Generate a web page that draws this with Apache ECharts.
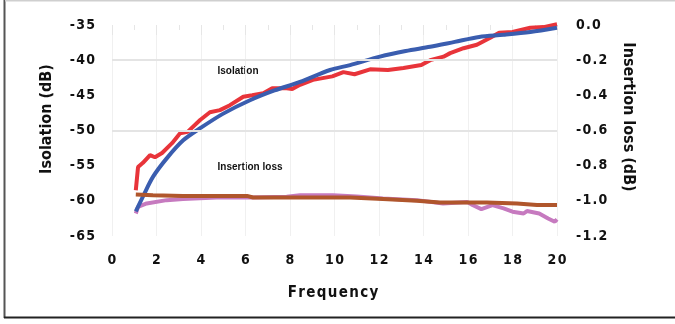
<!DOCTYPE html>
<html>
<head>
<meta charset="utf-8">
<script src="https://cdn.jsdelivr.net/npm/echarts@6/dist/echarts.min.js"></script>
<style>
html,body{margin:0;padding:0;background:#fff;}
#chart{width:675px;height:324px;}
</style>
</head>
<body>
<div id="chart"></div>
<script>
// Isolation (left axis, dB)
const freqRed = [1.07,1.17,1.39,1.71,1.93,2.25,2.70,3.06,3.4,3.96,4.4,4.85,5.3,5.9,6.3,6.8,7.2,7.85,8.1,8.45,9.03,9.9,10.4,10.9,11.6,12.4,13.1,13.9,14.3,14.9,15.2,15.8,16.4,17.0,17.4,18.0,18.8,19.4,20.0];
const isoRed  = [-58.5,-55.2,-54.6,-53.5,-53.8,-53.2,-51.8,-50.4,-50.2,-48.5,-47.4,-47.1,-46.4,-45.2,-45.0,-44.7,-44.0,-44.0,-44.1,-43.5,-42.8,-42.3,-41.7,-42.0,-41.3,-41.4,-41.1,-40.7,-40.0,-39.5,-39.0,-38.3,-37.8,-36.8,-36.1,-36.0,-35.4,-35.3,-34.9];
const freqBlue = [1.07,1.39,1.84,2.45,3.2,4.0,5.0,6.2,7.3,8.45,9.8,10.7,12.04,13.2,14.3,15.4,16.5,17.6,18.8,20.0];
const isoBlue  = [-61.5,-59.4,-56.6,-54.0,-51.4,-49.6,-47.6,-45.7,-44.3,-43.1,-41.4,-40.7,-39.5,-38.7,-38.1,-37.4,-36.7,-36.4,-36.0,-35.4];
// Insertion loss (right axis, dB)
const freqBrown = [1.07,1.84,3.19,6.07,6.34,8.45,10.7,12.18,13.7,14.74,15.96,16.85,18.2,19.1,20.0];
const ilBrown   = [-0.964,-0.968,-0.972,-0.972,-0.981,-0.981,-0.981,-0.990,-1.000,-1.009,-1.009,-1.009,-1.015,-1.024,-1.024];
const freqPink = [1.07,1.17,1.56,2.46,3.19,4.7,6.2,7.85,8.45,9.93,11.0,12.18,13.7,14.88,15.96,16.2,16.6,17.1,17.6,18.0,18.5,18.65,19.2,19.6,19.9,20.0];
const ilPink   = [-1.072,-1.034,-1.015,-0.996,-0.990,-0.981,-0.981,-0.977,-0.968,-0.968,-0.975,-0.987,-0.996,-1.015,-1.006,-1.024,-1.047,-1.024,-1.043,-1.062,-1.072,-1.058,-1.072,-1.100,-1.119,-1.105];
const gridLinesIso = [-40, -50];
const xTitle = 'Frequency';
const yLeftTitle = 'Isolation (dB)';
const yRightTitle = 'Insertion loss (dB)';

const zip = (a, b) => a.map((v, i) => [v, b[i]]);
const COND = "'DejaVu Sans Condensed', 'DejaVu Sans', sans-serif";
const spaced = s => String(s).split('').join('\u200A');

const chart = echarts.init(document.getElementById('chart'), null, {renderer: 'canvas'});
const labelStyle = {color: '#111', fontFamily: COND, fontWeight: 'bold', fontSize: 14};

chart.setOption({
  animation: false,
  grid: {left: 112, right: 118, top: 25, bottom: 88},
  xAxis: {
    type: 'value', min: 0, max: 20, interval: 2,
    axisLine: {show: false},
    axisTick: {show: true, length: 10, lineStyle: {color: '#e6e6e6'}},
    minorTick: {show: true, splitNumber: 2, length: 5, lineStyle: {color: '#e6e6e6'}},
    splitLine: {show: true, lineStyle: {color: '#f0f0f0', width: 1}},
    axisLabel: Object.assign({margin: 17, formatter: v => spaced(v)}, labelStyle)
  },
  yAxis: [{
    type: 'value', min: -65, max: -35, interval: 5,
    axisLine: {show: false}, axisTick: {show: false}, splitLine: {show: false},
    axisLabel: Object.assign({margin: 17, formatter: v => spaced(v)}, labelStyle)
  }, {
    type: 'value', min: -1.2, max: 0, interval: 0.2, position: 'right',
    axisLine: {show: false}, axisTick: {show: false}, splitLine: {show: false},
    axisLabel: Object.assign({margin: 19, formatter: v => spaced(v.toFixed(1))}, labelStyle)
  }],
  series: [{
    name: 'Isolation measured', type: 'line', yAxisIndex: 0, showSymbol: false,
    data: zip(freqRed, isoRed), clip: false,
    lineStyle: {color: '#e8343a', width: 4},
    markLine: {
      silent: true, symbol: 'none', label: {show: false},
      lineStyle: {color: '#e4e4e4', width: 2, type: 'solid'},
      data: gridLinesIso.map(v => ({yAxis: v}))
    },
    z: 2
  }, {
    name: 'Isolation fit', type: 'line', yAxisIndex: 0, showSymbol: false, smooth: 0.3,
    data: zip(freqBlue, isoBlue), clip: false,
    lineStyle: {color: '#3a5daf', width: 4}, z: 3
  }, {
    name: 'Insertion loss measured', type: 'line', yAxisIndex: 1, showSymbol: false,
    data: zip(freqPink, ilPink),
    lineStyle: {color: '#c67abf', width: 4}, z: 2
  }, {
    name: 'Insertion loss fit', type: 'line', yAxisIndex: 1, showSymbol: false,
    data: zip(freqBrown, ilBrown),
    lineStyle: {color: '#b0562c', width: 4}, z: 3
  }],
  graphic: [
    {type: 'line', shape: {x1: 4.5, y1: 0, x2: 4.5, y2: 318}, style: {stroke: '#555', lineWidth: 2}, silent: true},
    {type: 'line', shape: {x1: 4, y1: 317.5, x2: 675, y2: 317.5}, style: {stroke: '#222', lineWidth: 2}, silent: true},
    {type: 'line', shape: {x1: 5, y1: 0.75, x2: 675, y2: 0.75}, style: {stroke: '#cfcfcf', lineWidth: 1.5}, silent: true},
    {type: 'text', x: 47, y: 119, rotation: Math.PI / 2,
     style: {text: yLeftTitle, align: 'center', verticalAlign: 'middle', fill: '#111',
             font: "bold 16px " + COND}},
    {type: 'text', x: 628, y: 117, rotation: -Math.PI / 2,
     style: {text: yRightTitle, align: 'center', verticalAlign: 'middle', fill: '#111',
             font: "bold 16px " + COND}},
    {type: 'text', x: 333, y: 293,
     style: {text: xTitle.split('').join('\u200A'), align: 'center', verticalAlign: 'middle', fill: '#111',
             font: "bold 15px " + COND}},
    {type: 'text', x: 238, y: 71,
     style: {text: 'Isolation', align: 'center', verticalAlign: 'middle', fill: '#111',
             font: "bold 10px 'Liberation Sans', Arial, sans-serif"}},
    {type: 'text', x: 250, y: 167,
     style: {text: 'Insertion loss', align: 'center', verticalAlign: 'middle', fill: '#111',
             font: "bold 10px 'Liberation Sans', Arial, sans-serif"}}
  ]
});
</script>
</body>
</html>
